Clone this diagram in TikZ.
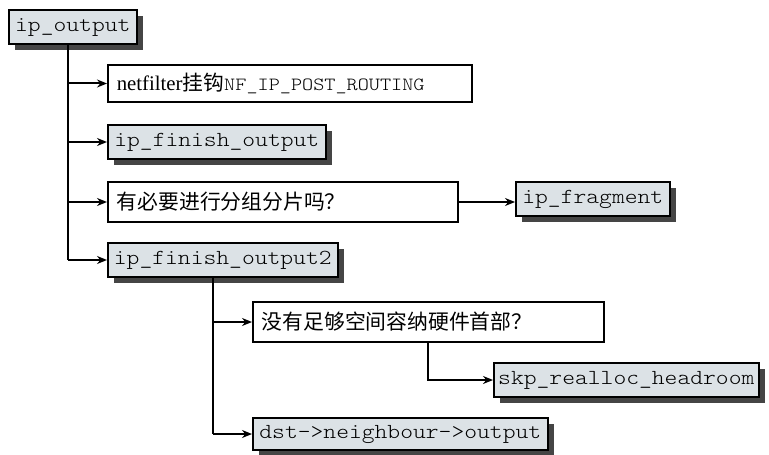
\documentclass[tikz,border=0pt]{standalone}
\usepackage{fontspec}
\setmainfont{Liberation Serif}
\setmonofont{Latin Modern Mono Light}[FakeStretch=1.14]
\newfontfamily\cjk{Noto Sans CJK SC}
\usetikzlibrary{arrows.meta,shadows}
\definecolor{boxgray}{HTML}{DCE2E6}
\definecolor{shadowgray}{HTML}{454545}
\begin{document}
\begin{tikzpicture}[x=0.5pt,y=-0.5pt,
  fn/.style={draw=black, line width=0.8pt, fill=boxgray, font=\fontsize{10.7}{12}\selectfont\ttfamily,
    inner sep=0pt, anchor=west, minimum height=17pt, minimum width=#1,
    drop shadow={shadow xshift=3pt, shadow yshift=-3pt, fill=shadowgray, opacity=1}},
  note/.style={draw=black, line width=0.8pt, fill=white, inner xsep=4.5pt, inner ysep=0pt, anchor=west,
    minimum height=20pt, text width=#1, align=left, font=\fontsize{10.4}{12}\selectfont},
  wire/.style={line width=1pt},
  conn/.style={line width=1pt, -{Stealth[length=5pt,width=4pt]}},
]
\useasboundingbox (0,0) rectangle (769,454);

\node[fn=64pt] (ipo) at (8,27) {ip\_output};
\node[note=173pt, minimum height=18.5pt] (nf) at (107,83.5)
  {netfilter{\cjk 挂钩}{\ttfamily\fontsize{9.3}{11}\selectfont NF\_IP\_POST\_ROUTING}};
\node[fn=109pt] (ipf) at (107,142) {ip\_finish\_output};
\node[note=166pt] (q1) at (107,202) {\cjk 有必要进行分组分片吗？};
\node[fn=77pt] (frag) at (515,199) {ip\_fragment};
\node[fn=115pt] (ipf2) at (107,260) {ip\_finish\_output2};
\node[note=166.5pt] (q2) at (252,322) {\cjk 没有足够空间容纳硬件首部？};
\node[fn=132.5pt] (skp) at (493,380) {skp\_realloc\_headroom};
\node[fn=147.5pt, minimum height=16pt] (dst) at (252,434) {dst->neighbour->output};

\coordinate (trunk) at (68,0);
\coordinate (trunkb) at (213,0);
\coordinate (trunkc) at (428,0);

\draw[wire] (ipo.south -| trunk) -- (trunk |- ipf2.west);
\draw[conn] (trunk |- nf.west) -- (nf.west);
\draw[conn] (trunk |- ipf.west) -- (ipf.west);
\draw[conn] (trunk |- q1.west) -- (q1.west);
\draw[conn] (trunk |- ipf2.west) -- (ipf2.west);
\draw[conn] (q1.east) -- (q1.east -| frag.west);

\draw[wire] (ipf2.south -| trunkb) -- (trunkb |- dst.west);
\draw[conn] (trunkb |- q2.west) -- (q2.west);
\draw[conn] (trunkb |- dst.west) -- (dst.west);
\draw[conn] (q2.south -| trunkc) |- (skp.west);
\end{tikzpicture}
\end{document}
